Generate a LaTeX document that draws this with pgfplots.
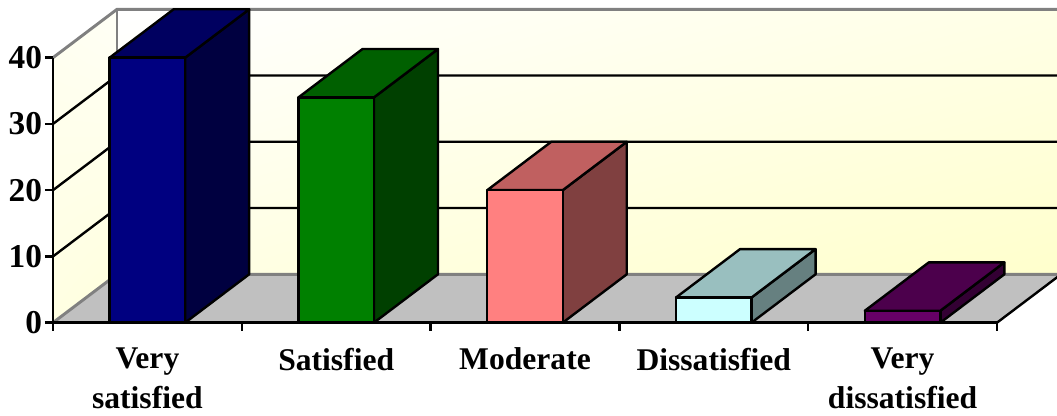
\documentclass[border=0pt]{standalone}
\usepackage{pgfplots}
\usepackage{fontspec}
\setmainfont{Liberation Serif}
\pgfplotsset{compat=1.18}
\usetikzlibrary{shadings}

% oblique depth of the chart box, in axis units
\def\depthx{0.339}
\def\depthy{7.3}
\def\halfbar{0.2}

% one prism: category centre, value, front / side / top colours
\newcommand{\prism}[5]{%
  \pgfmathsetmacro{\xl}{#1-\halfbar}%
  \pgfmathsetmacro{\xr}{#1+\halfbar}%
  \pgfmathsetmacro{\xlb}{\xl+\depthx}%
  \pgfmathsetmacro{\xrb}{\xr+\depthx}%
  \pgfmathsetmacro{\yb}{\depthy}%
  \pgfmathsetmacro{\yt}{#2+\depthy}%
  \addplot[fill=#4,draw=black,line width=1.8pt,line join=round]
    coordinates {(\xr,0) (\xrb,\yb) (\xrb,\yt) (\xr,#2)} --cycle;
  \addplot[fill=#5,draw=black,line width=1.8pt,line join=round]
    coordinates {(\xl,#2) (\xlb,\yt) (\xrb,\yt) (\xr,#2)} --cycle;
  \addplot[fill=#3,draw=black,line width=1.8pt,line join=round]
    coordinates {(\xl,0) (\xl,#2) (\xr,#2) (\xr,0)} --cycle;
}

\definecolor{wallmid}{HTML}{FFFFE6}
\definecolor{wallend}{HTML}{FFFFCC}
\definecolor{sidetopl}{HTML}{FFFFF2}
\definecolor{sidetopr}{HTML}{FFFFF6}
\definecolor{sidelowl}{HTML}{FFFFE2}
\definecolor{sidelowr}{HTML}{FFFFDC}
\definecolor{edgegray}{HTML}{808080}
\definecolor{floorgray}{HTML}{C0C0C0}
\definecolor{navy1}{HTML}{000080}
\definecolor{navy2}{HTML}{000040}
\definecolor{navy3}{HTML}{000060}
\definecolor{green1}{HTML}{008000}
\definecolor{green2}{HTML}{004000}
\definecolor{green3}{HTML}{006000}
\definecolor{rose1}{HTML}{FF8080}
\definecolor{rose2}{HTML}{804040}
\definecolor{rose3}{HTML}{C06060}
\definecolor{aqua1}{HTML}{CCFFFF}
\definecolor{aqua2}{HTML}{668080}
\definecolor{aqua3}{HTML}{99BFBF}
\definecolor{plum1}{HTML}{660066}
\definecolor{plum2}{HTML}{330033}
\definecolor{plum3}{HTML}{4C004C}

\begin{document}
\begin{tikzpicture}
\path[use as bounding box] (-39.75pt,-70pt) rectangle (753pt,242pt);
\begin{axis}[
  at={(0pt,0pt)}, anchor=south west,
  scale only axis, width=708pt, height=198.75pt,
  xmin=0, xmax=5, ymin=0, ymax=40,
  clip=false, axis on top,
  axis lines=left, axis line style={-,black,line width=2.2pt},
  tick style={black,line width=1.8pt}, tick align=outside, tick pos=left,
  major tick length=6pt,
  xtick={0,1,2,3,4,5}, xticklabels={,,,,,},
  extra x ticks={0.5,1.5,2.5,3.5,4.5},
  extra x tick labels={{Very\\satisfied},{Satisfied},{Moderate},{Dissatisfied},{Very\\dissatisfied}},
  extra x tick style={major tick length=0pt,
    tick label style={align=center,anchor=north,yshift=-15.5pt,
      font=\fontsize{23.7}{30}\selectfont\bfseries}},
  ytick={0,10,20,30,40},
  yticklabel style={font=\fontsize{25}{30}\selectfont\bfseries,inner sep=1pt,xshift=-1pt},
  /pgf/number format/assume math mode=true,
]
  % walls and floor of the box
  \shade[upper left=white,upper right=wallmid,lower left=wallmid,lower right=wallend]
    (axis cs:\depthx,\depthy) rectangle (axis cs:5.34,47.3);
  \shade[upper left=sidetopl,upper right=sidetopr,lower left=sidelowl,lower right=sidelowr]
    (axis cs:0,0) -- (axis cs:\depthx,\depthy) -- (axis cs:\depthx,47.3) -- (axis cs:0,40) -- cycle;
  \addplot[fill=floorgray,draw=none]
    coordinates {(0,0) (5,0) (5.339,7.3) (0.339,7.3)} --cycle;

  % grid lines along both walls
  \addplot[black,line width=1.8pt] coordinates {(0,10) (0.339,17.3) (5.4,17.3)};
  \addplot[black,line width=1.8pt] coordinates {(0,20) (0.339,27.3) (5.4,27.3)};
  \addplot[black,line width=1.8pt] coordinates {(0,30) (0.339,37.3) (5.4,37.3)};

  % box edges
  \addplot[edgegray,line width=2.2pt] coordinates {(0,40) (0.339,47.3) (5.4,47.3)};
  \addplot[edgegray,line width=2.2pt] coordinates {(0,0) (0.339,7.3) (5.4,7.3)};
  \addplot[edgegray,line width=2.2pt] coordinates {(0.339,7.3) (0.339,47.3)};
  \addplot[black,line width=1.8pt] coordinates {(5,0) (5.339,7.3)};

  % the five answers
  \prism{0.5}{40}{navy1}{navy2}{navy3}
  \prism{1.5}{34}{green1}{green2}{green3}
  \prism{2.5}{20}{rose1}{rose2}{rose3}
  \prism{3.5}{3.8}{aqua1}{aqua2}{aqua3}
  \prism{4.5}{1.8}{plum1}{plum2}{plum3}
\end{axis}
\end{tikzpicture}
\end{document}
